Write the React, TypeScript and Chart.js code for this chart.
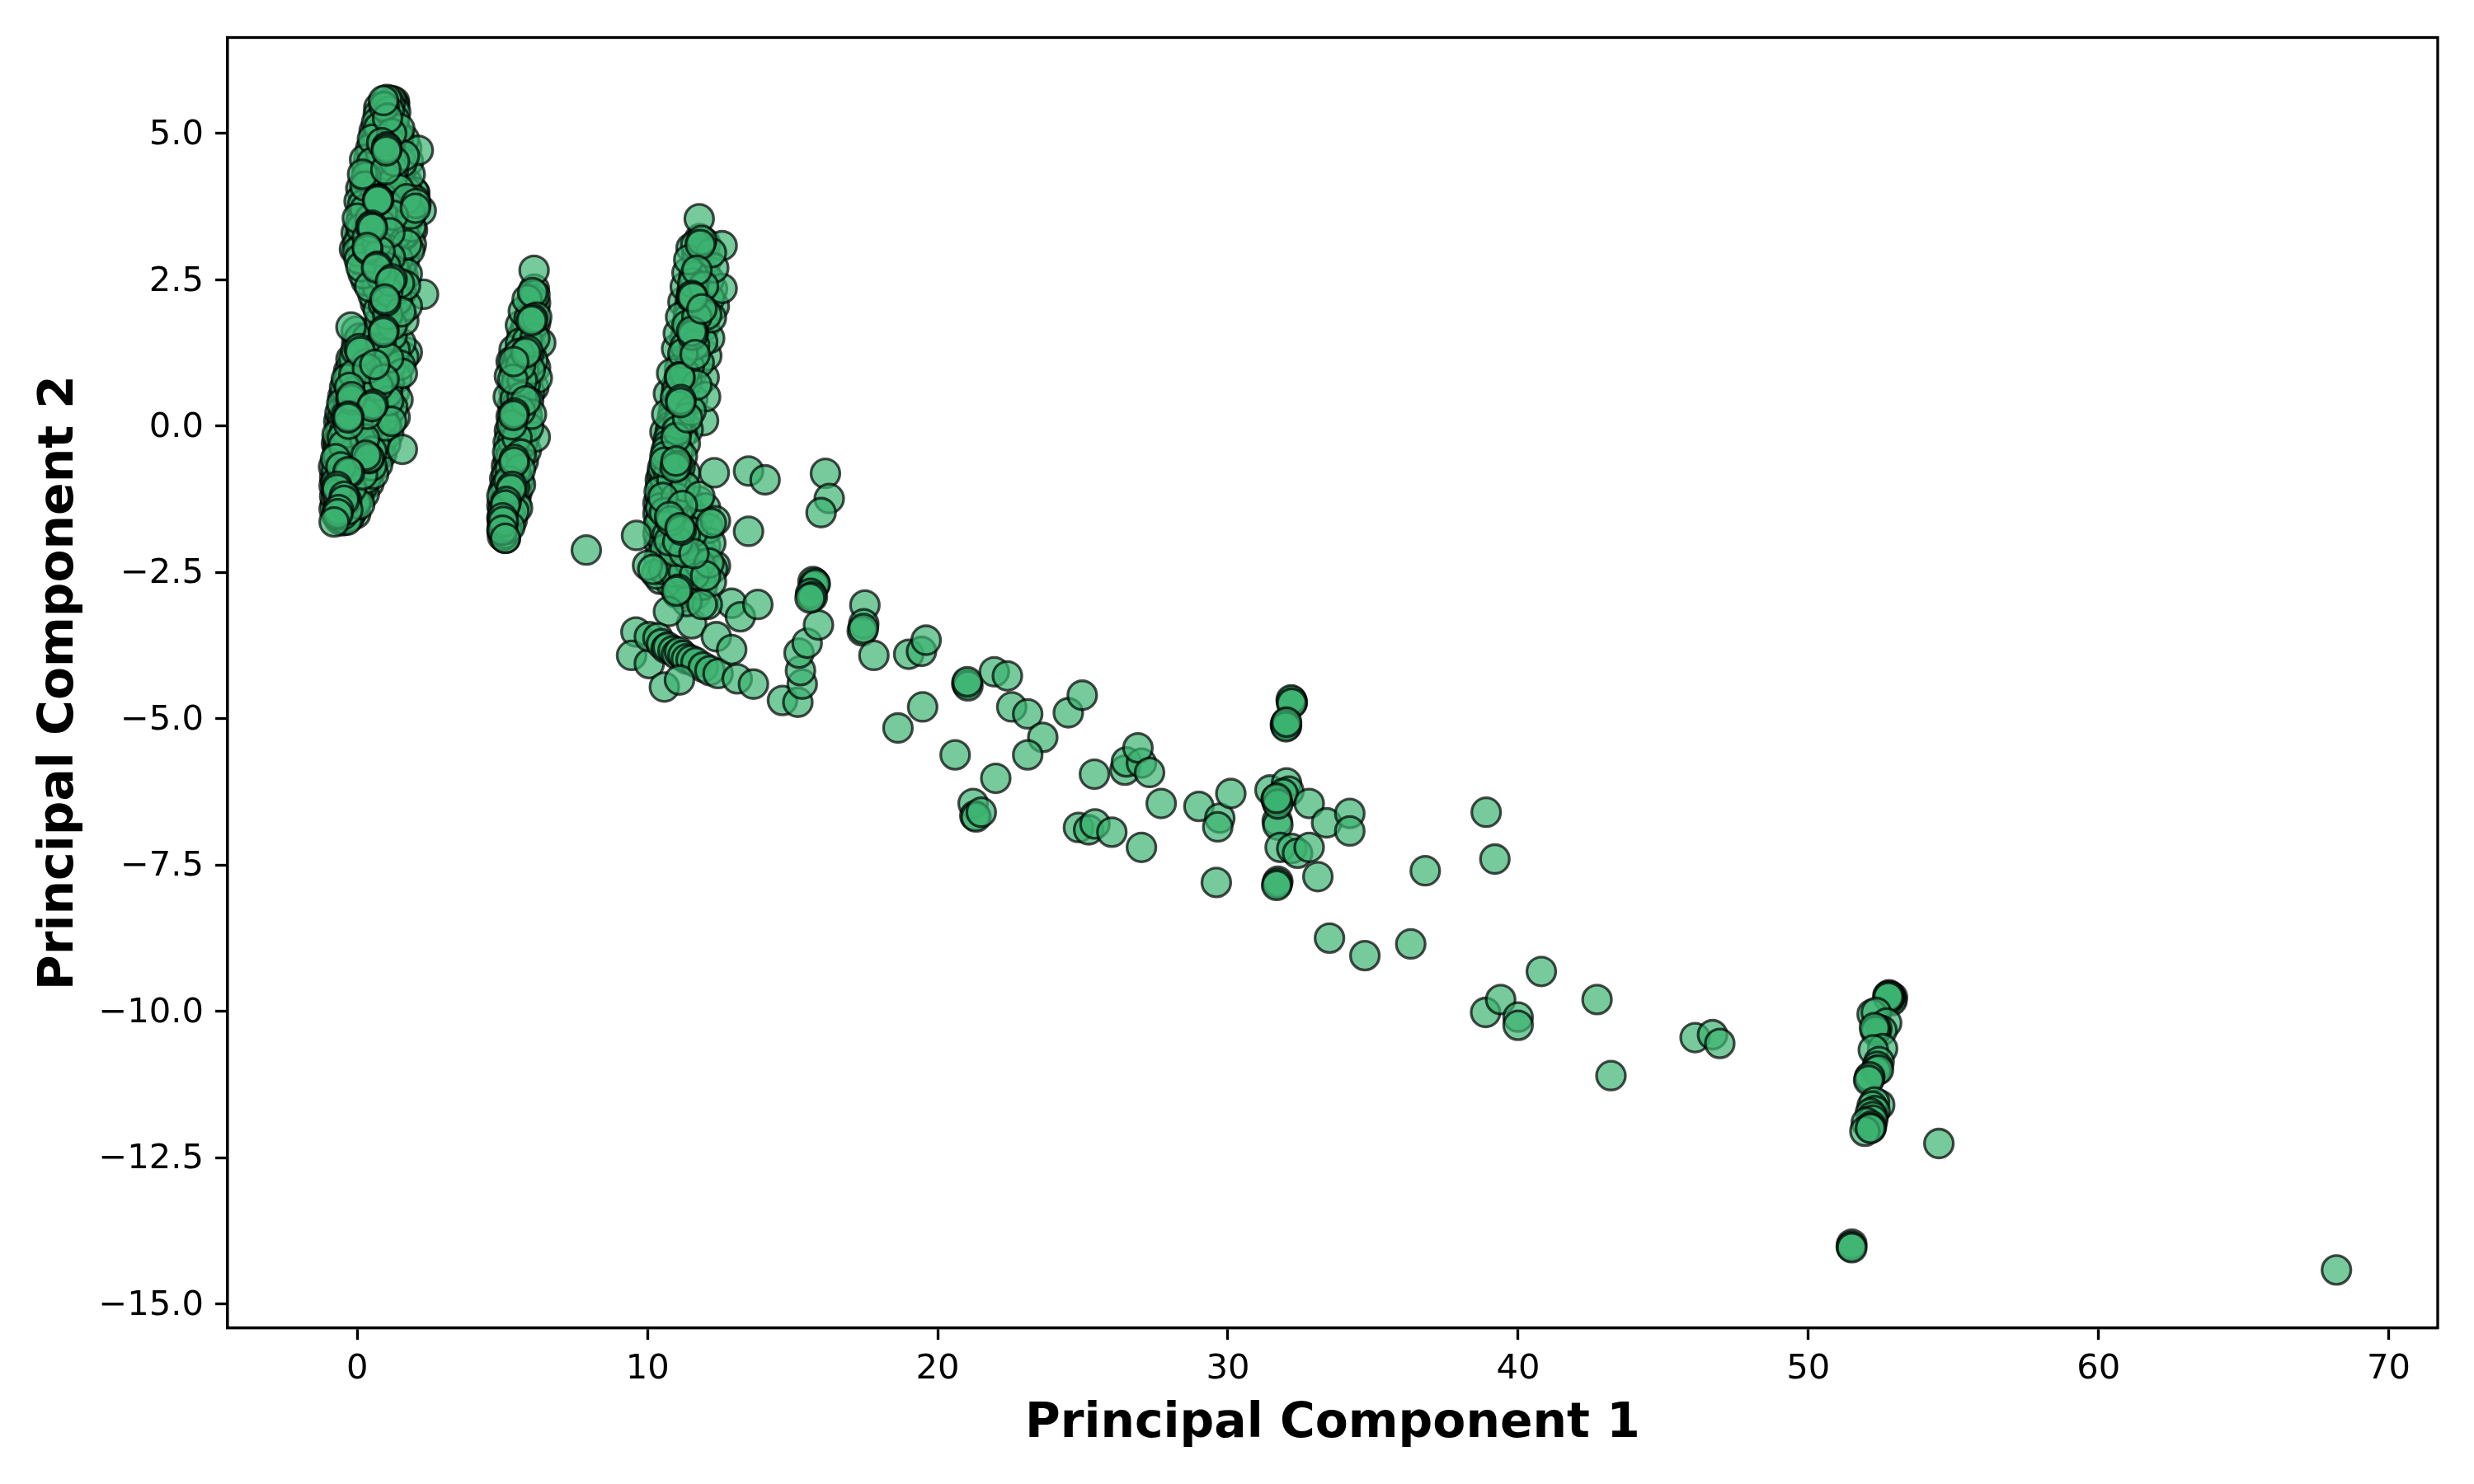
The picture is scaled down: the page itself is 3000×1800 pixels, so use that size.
import React, { useEffect, useRef } from "react";
import { Chart, registerables } from "chart.js";

Chart.register(...registerables);

type P = [number, number];

const xTicks = [0, 10, 20, 30, 40, 50, 60, 70];
const yTicks = [-15, -12.5, -10, -7.5, -5, -2.5, 0, 2.5, 5];
const xAxisTitle = "Principal Component 1";
const yAxisTitle = "Principal Component 2";

const clusterLower: P[] = [
  [-0.52,-1.62],[-0.44,-1.6],[-0.36,-1.61],[-0.6,-1.56],[-0.28,-1.56],[-0.5,-1.52],[-0.41,-1.49],[-0.55,-1.44],[-0.63,-1.47],[-0.2,-1.48],[-0.66,-1.38],[-0.33,-1.43],[-0.12,-1.41],
  [-0.58,-1.33],[-0.47,-1.36],[-0.24,-1.34],[-0.05,-1.31],[-0.68,-1.27],[-0.6,-1.22],[-0.37,-1.27],[-0.15,-1.25],[0.03,-1.22],[-0.7,-1.16],[-0.52,-1.17],[-0.29,-1.19],[-0.08,-1.15],[0.11,-1.13],
  [-0.72,-1.07],[-0.63,-1.02],[-0.43,-1.09],[-0.2,-1.06],[0.0,-1.03],[0.2,-1.02],[-0.74,-0.96],[-0.55,-0.95],[-0.33,-0.98],[-0.12,-0.93],[0.08,-0.94],[0.3,-0.9],[-0.7,-0.87],[-0.64,-0.8],[-0.45,-0.85],[-0.25,-0.84],[-0.02,-0.81],[0.18,-0.83],[0.42,-0.79],
  [-0.72,-0.74],[-0.57,-0.7],[-0.37,-0.74],[-0.14,-0.7],[0.07,-0.69],[0.28,-0.72],[0.5,-0.68],[-0.66,-0.62],[-0.5,-0.58],[-0.27,-0.61],[-0.05,-0.58],[0.17,-0.6],[0.4,-0.56],[0.62,-0.55],
  [-0.68,-0.5],[-0.58,-0.45],[-0.39,-0.49],[-0.18,-0.47],[0.04,-0.45],[0.27,-0.47],[0.5,-0.43],[0.72,-0.42],[-0.66,-0.38],[-0.48,-0.33],[-0.3,-0.37],[-0.08,-0.33],[0.15,-0.34],[0.38,-0.32],[0.6,-0.3],[0.82,-0.28],
  [-0.64,-0.26],[-0.52,-0.2],[-0.2,-0.22],[0.02,-0.2],[0.25,-0.22],[0.48,-0.18],[0.7,-0.17],[0.9,-0.14],[-0.6,-0.12],[-0.43,-0.08],[-0.12,-0.09],[0.12,-0.07],[0.36,-0.08],[0.58,-0.04],[0.8,-0.03],[1.0,0.0],
  [-0.56,0.0],[-0.46,0.06],[-0.3,0.03],[-0.03,0.05],[0.22,0.06],[0.46,0.08],[0.69,0.1],[0.9,0.12],[1.04,0.16],[-0.52,0.13],[-0.38,0.18],[-0.16,0.18],[0.08,0.19],[0.33,0.2],[0.58,0.23],[0.8,0.25],[1.02,0.28],
  [-0.48,0.27],[-0.33,0.31],[-0.05,0.33],[0.2,0.34],[0.45,0.36],[0.7,0.38],[0.92,0.4],[1.08,0.43],[-0.43,0.4],[-0.28,0.45],[-0.14,0.47],[0.08,0.47],[0.33,0.49],[0.58,0.52],[0.82,0.54],[1.04,0.57],
  [-0.4,0.53],[-0.24,0.6],[-0.02,0.61],[0.22,0.63],[0.47,0.66],[0.72,0.68],[0.95,0.7],[1.1,0.73],[-0.35,0.68],[-0.18,0.74],[0.1,0.76],[0.35,0.79],[0.6,0.82],[0.85,0.83],[1.06,0.87],
  [-0.3,0.82],[-0.12,0.88],[0.2,0.91],[0.48,0.94],[0.74,0.96],[0.98,0.99],[1.14,1.02],[-0.22,0.98],[-0.05,1.04],[0.3,1.06],[0.58,1.1],[0.86,1.12],[1.08,1.16],[1.3,1.1],
  [-0.12,1.14],[0.05,1.2],[0.4,1.23],[0.7,1.26],[0.96,1.3],[1.18,1.28],[-0.05,1.29],[0.18,1.34],[0.52,1.38],[0.82,1.42],[1.1,1.42],[1.3,1.3],[-0.02,1.42],[0.08,1.5],[0.34,1.5],[0.66,1.55],[0.95,1.56],[1.2,1.55],[-0.04,1.62],
  [-0.78,-1.2],[-0.8,-1.02],[-0.78,-0.88],[-0.82,-0.7],[-0.75,-0.56],[-0.72,-0.3],[-0.7,-0.15],[-0.64,0.08],[-0.6,0.22],[-0.54,0.38],[-0.5,0.5],[-0.44,0.66],[-0.38,0.8],[-0.3,0.94],[-0.22,1.14],[-0.22,1.69],[-0.76,-1.34],[-0.72,-1.52],[-0.62,-1.6],[-0.8,-1.42],
  [1.22,0.32],[1.28,0.58],[1.36,0.82],[1.48,1.04],[1.72,1.26],[1.5,1.42],[1.18,0.08],[1.08,-0.12],[0.98,-0.3],[0.84,-0.48],[0.7,-0.66],[0.56,-0.82],[0.4,-0.98],[0.24,-1.16],[0.08,-1.34],[-0.06,-1.5],[1.4,0.45],[1.55,0.9],[1.6,1.18],[1.3,0.15],
];

const clusterUpper: P[] = [
  [0.95,1.72],[1.2,1.72],[0.78,1.8],[1.35,1.85],[1.05,1.9],[0.72,1.98],[1.24,2.02],[1.5,1.95],[0.9,2.08],[0.62,2.1],[1.12,2.16],[1.38,2.15],[0.54,2.24],[0.82,2.26],[1.05,2.3],[1.3,2.3],[1.52,2.28],
  [0.42,2.38],[0.68,2.38],[0.96,2.42],[1.2,2.46],[1.45,2.44],[0.3,2.48],[0.56,2.52],[0.82,2.56],[1.08,2.58],[1.35,2.6],[1.58,2.56],[0.2,2.6],[0.45,2.66],[0.72,2.7],[0.98,2.72],[1.25,2.72],[1.5,2.72],
  [0.12,2.72],[0.34,2.8],[0.6,2.82],[0.88,2.86],[1.14,2.88],[1.4,2.86],[1.62,2.84],[0.06,2.85],[0.26,2.94],[0.5,2.96],[0.78,2.98],[1.04,3.02],[1.3,3.0],[1.55,3.0],[0.0,2.98],[0.15,3.06],[0.42,3.08],[0.68,3.12],[0.94,3.14],[1.2,3.16],[1.45,3.14],[1.7,3.1],
  [0.02,3.12],[0.1,3.2],[0.34,3.22],[0.6,3.26],[0.88,3.28],[1.12,3.3],[1.38,3.28],[1.62,3.26],[0.08,3.3],[0.14,3.38],[0.36,3.38],[0.56,3.42],[0.82,3.44],[1.06,3.46],[1.3,3.44],[1.58,3.44],[1.85,3.4],
  [0.1,3.46],[0.2,3.54],[0.44,3.54],[0.72,3.58],[0.98,3.6],[1.24,3.6],[1.5,3.58],[1.78,3.56],[0.14,3.62],[0.26,3.7],[0.5,3.7],[0.78,3.74],[1.05,3.76],[1.3,3.74],[1.6,3.72],[2.0,3.72],[0.18,3.78],[0.3,3.86],[0.58,3.86],[0.86,3.9],[1.12,3.9],[1.38,3.88],[1.7,3.88],[1.98,3.86],
  [0.22,3.94],[0.34,4.02],[0.62,4.02],[0.9,4.06],[1.16,4.06],[1.44,4.04],[1.72,4.0],[1.98,3.98],[0.26,4.1],[0.4,4.18],[0.66,4.2],[0.94,4.22],[1.2,4.22],[1.46,4.2],[1.72,4.16],[0.3,4.26],[0.44,4.34],[0.7,4.36],[0.98,4.38],[1.24,4.36],[1.5,4.35],
  [0.34,4.42],[0.5,4.5],[0.76,4.52],[1.02,4.54],[1.28,4.52],[1.54,4.5],[0.4,4.58],[0.54,4.66],[0.8,4.68],[1.08,4.68],[1.36,4.66],[1.62,4.62],[0.46,4.74],[0.6,4.82],[0.84,4.84],[1.14,4.84],[1.4,4.82],[1.7,4.75],
  [0.52,4.9],[0.68,4.96],[0.92,5.0],[1.18,5.0],[1.42,4.95],[1.62,4.9],[0.58,5.04],[0.74,5.1],[1.0,5.12],[1.26,5.12],[1.46,5.08],[0.66,5.18],[0.82,5.24],[1.04,5.26],[1.28,5.24],[0.72,5.32],[0.88,5.36],[1.1,5.38],[1.32,5.36],[0.74,5.44],[0.92,5.46],[1.12,5.5],[1.28,5.48],[0.9,5.56],[1.02,5.58],[1.18,5.56],[1.28,5.54],
  [2.1,4.71],[1.95,4.0],[2.2,3.68],[2.02,3.8],[1.6,3.28],[1.86,3.1],[2.28,2.25],[1.72,2.6],[-0.1,3.02],[-0.04,3.3],[0.0,3.55],[0.06,3.84],[0.12,4.06],[0.18,4.3],[0.25,4.55],[1.8,3.0],[1.9,3.35],[1.66,2.4],[1.72,2.05],[1.6,1.8],[1.84,3.62],[1.82,4.3],[1.76,4.52],
];

const clusterUpperRings: P[] = [
  [0.72,3.87],[0.71,3.88],[0.73,3.86],[0.7,3.85],[1.01,4.77],[1.02,4.74],[1.0,4.7],[0.5,3.43],[0.46,3.4],[0.52,3.38],[0.36,3.01],[0.34,3.05],[0.69,2.73],[0.66,2.7],[1.2,2.51],[1.14,2.47],[0.98,2.13],[0.95,2.17],[0.92,1.64],[0.9,1.6],
];

const clusterLowerRings: P[] = [
  [0.06,1.32],[0.1,1.27],[0.35,0.98],[0.92,0.8],[-0.27,0.66],[-0.22,0.45],[-0.2,0.5],[0.55,0.37],[0.5,0.33],[-0.3,0.17],[-0.32,0.14],[0.4,-0.54],[0.3,-0.5],[-0.27,-0.8],[-0.32,-0.78],[-0.7,-1.03],[-0.7,-1.08],[-0.45,-1.2],[-0.46,-1.27],[-0.65,-1.43],[-0.68,-1.5],[-0.8,-1.64],[1.55,-0.4],[0.6,1.05],
];

const clusterMiddle: P[] = [
  [5.1,-1.92],[5.0,-1.88],[5.08,-1.84],[4.98,-1.78],[5.16,-1.76],[5.04,-1.72],[5.26,-1.72],[5.0,-1.66],[5.12,-1.62],[5.34,-1.6],[4.98,-1.57],[5.1,-1.54],[5.24,-1.5],[5.4,-1.46],[5.02,-1.44],[5.14,-1.4],[4.98,-1.36],[5.3,-1.36],[5.46,-1.3],[5.08,-1.3],[5.2,-1.26],[4.98,-1.2],[5.36,-1.2],[5.14,-1.16],[5.5,-1.14],[5.04,-1.1],[5.28,-1.08],[5.42,-1.04],[5.12,-1.02],[5.22,-0.94],[5.08,-0.9],[5.56,-0.92],
  [5.34,-0.88],[5.15,-0.82],[5.46,-0.78],[5.26,-0.74],[5.62,-0.74],[5.14,-0.68],[5.38,-0.65],[5.5,-0.58],[5.22,-0.58],[5.3,-0.5],[5.18,-0.45],[5.64,-0.48],[5.42,-0.42],[5.26,-0.36],[5.56,-0.34],[5.2,-0.28],[5.7,-0.3],[5.36,-0.26],[5.5,-0.2],[5.28,-0.16],[5.8,-0.14],[5.64,-0.1],[5.24,-0.08],[5.42,-0.05],[6.13,-0.19],[5.9,-0.02],
  [5.32,0.02],[5.56,0.04],[5.72,0.08],[5.38,0.1],[5.3,0.16],[5.86,0.16],[5.5,0.2],[5.62,0.26],[5.4,0.3],[5.36,0.36],[5.76,0.34],[5.54,0.4],[5.9,0.42],[5.44,0.46],[5.68,0.5],[5.5,0.56],[5.94,0.58],[5.4,0.6],[5.6,0.66],[5.78,0.7],[5.48,0.74],[5.68,0.78],[5.36,0.8],[5.88,0.82],[6.2,0.82],[5.56,0.88],
  [5.74,0.94],[5.44,0.96],[5.96,0.96],[5.62,1.02],[5.84,1.08],[5.3,1.1],[5.5,1.12],[6.05,1.12],[5.7,1.18],[5.92,1.24],[5.58,1.24],[5.4,1.3],[6.0,1.34],[5.76,1.34],[6.32,1.42],[5.62,1.42],[5.86,1.46],[6.12,1.5],[5.68,1.54],[5.94,1.58],[5.78,1.64],[6.05,1.66],[5.84,1.74],[6.14,1.76],[5.92,1.84],
  [6.18,1.86],[5.98,1.94],[6.1,2.0],[6.0,2.04],[6.14,2.1],[6.02,2.16],[6.12,2.24],[6.04,2.28],[6.1,2.34],[6.09,2.66],[5.72,-0.6],[5.82,-0.42],[5.62,-1.0],[5.52,-1.4],[6.0,0.2],[6.08,0.66],[6.14,1.0],[5.2,0.5],[5.24,0.85],[5.62,1.72],[5.72,1.96],[5.85,2.16],
];

const clusterMiddleRings: P[] = [
  [6.04,1.83],[6.0,1.8],[5.87,1.29],[5.8,1.25],[5.39,1.1],[5.8,0.43],[5.41,0.22],[5.38,0.18],[5.41,-0.57],[5.4,-0.62],[5.33,-1.03],[5.3,-1.08],[5.13,-1.29],[5.1,-1.35],[5.0,-1.57],[5.03,-1.63],[5.0,-1.78],[5.1,-1.92],
];

const clusterRight: P[] = [
  [10.4,-2.0],[10.52,-1.92],[10.36,-1.84],[10.68,-1.86],[10.5,-1.76],[10.82,-1.78],[10.38,-1.68],[10.62,-1.68],[10.96,-1.7],[10.45,-1.58],[10.72,-1.58],[11.1,-1.6],[10.36,-1.5],[10.58,-1.48],[10.86,-1.5],[11.24,-1.52],[10.44,-1.4],[10.7,-1.4],[11.0,-1.42],[11.46,-1.46],[10.36,-1.32],[10.56,-1.3],[10.82,-1.3],[11.14,-1.3],[10.44,-1.22],[10.68,-1.2],[10.98,-1.22],[11.38,-1.24],[11.76,-1.28],
  [10.4,-1.12],[10.58,-1.1],[10.82,-1.12],[11.1,-1.12],[10.46,-1.02],[10.7,-1.0],[10.96,-1.02],[11.3,-1.04],[10.44,-0.92],[10.6,-0.9],[10.84,-0.92],[11.14,-0.94],[10.5,-0.82],[10.72,-0.8],[10.98,-0.82],[11.3,-0.8],[10.52,-0.72],[10.66,-0.7],[10.88,-0.72],[11.12,-0.7],[10.58,-0.62],[10.76,-0.6],[11.0,-0.62],[10.6,-0.52],[10.8,-0.5],[11.2,-0.52],[10.64,-0.42],[10.88,-0.4],[11.06,-0.42],[10.7,-0.32],[10.92,-0.3],[11.3,-0.3],[10.72,-0.22],[10.98,-0.2],[11.2,-0.14],
  [10.78,-0.1],[11.02,-0.08],[11.4,-0.06],[10.8,0.0],[11.04,0.02],[11.93,0.09],[10.84,0.1],[11.1,0.12],[11.38,0.14],[10.88,0.22],[11.14,0.24],[11.5,0.26],[10.94,0.34],[11.2,0.36],[10.96,0.48],[11.26,0.5],[11.56,0.46],[11.0,0.6],[11.32,0.62],[11.02,0.72],[11.36,0.76],[11.7,0.7],[11.95,0.83],[10.83,0.9],[11.28,0.9],[11.56,0.92],[11.1,0.98],[11.44,1.02],[11.18,1.1],[11.52,1.14],[11.78,1.08],
  [11.22,1.24],[11.5,1.26],[11.3,1.36],[11.62,1.38],[11.28,1.48],[11.58,1.5],[11.9,1.44],[11.34,1.6],[11.66,1.62],[11.36,1.72],[11.68,1.74],[11.96,1.7],[11.4,1.84],[11.7,1.86],[11.42,1.96],[11.76,1.98],[12.04,1.9],[11.46,2.08],[11.8,2.1],[11.5,2.2],[11.84,2.22],[12.14,2.18],[11.54,2.32],[11.86,2.36],[12.24,2.34],[12.57,2.35],[11.56,2.44],[11.9,2.48],[12.12,2.5],[11.6,2.56],[11.96,2.62],[11.68,2.7],[12.28,2.7],[11.74,2.82],[12.04,2.84],[11.7,2.94],[12.2,2.96],[11.84,3.02],[12.57,3.08],[11.66,3.1],[12.0,3.12],[11.8,3.2],[11.78,3.54],
  [11.0,1.32],[11.06,1.58],[11.14,1.86],[11.22,2.12],[11.3,2.38],[11.36,2.62],[11.42,2.84],[11.5,3.04],[12.14,1.5],[12.2,1.85],[12.3,2.05],[10.6,-0.1],[10.66,0.2],[10.72,0.55],[12.04,1.2],[12.0,0.5],
];

const clusterRightLower: P[] = [
  [11.76,-1.6],[12.0,-1.4],[11.8,-1.2],[12.1,-1.75],[11.56,-1.82],[11.3,-1.86],[10.74,-1.96],[11.04,-1.98],[11.44,-2.02],[11.78,-2.0],[12.0,-2.05],[12.18,-2.0],[10.6,-2.1],[10.92,-2.14],[11.26,-2.16],[11.6,-2.18],[11.94,-2.2],[10.4,-2.26],[10.74,-2.28],[11.08,-2.32],[11.44,-2.32],[11.8,-2.36],[12.12,-2.34],[12.34,-2.39],[12.24,-2.44],[10.3,-2.53],[10.56,-2.46],[10.9,-2.5],[11.24,-2.5],[11.62,-2.54],[12.0,-2.56],[10.44,-2.62],[10.8,-2.68],[11.14,-2.7],[11.5,-2.7],[11.9,-2.72],[12.2,-2.66],[11.06,-2.79],[11.0,-2.82],[11.02,-2.86],[11.32,-2.86],[11.66,-2.88],[12.06,-3.05],[11.36,-3.0],
  [11.88,-3.05],[10.72,-3.17],[11.52,-3.38],[12.37,-3.6],[12.9,-3.03],[13.2,-3.26],[13.8,-3.05],[12.3,-0.8],[12.34,-1.62],[12.2,-1.66],[13.48,-0.77],[14.05,-0.92],[13.48,-1.8],[9.62,-1.87],[7.89,-2.12],[10.0,-2.38],[10.18,-2.45],
];

const clusterRightRings: P[] = [
  [11.1,0.84],[11.12,0.83],[11.15,0.45],[11.14,0.4],[11.02,-0.68],[10.95,-0.71],[10.98,-0.6],[10.53,-1.22],[11.2,-1.36],[10.8,-1.62],[10.76,-1.55],[11.16,-1.78],[11.12,-1.74],[11.87,3.17],[11.82,3.1],[11.93,2.39],[11.7,2.66],[11.53,2.23],[11.56,2.2],[11.58,1.6],[11.55,1.55],[11.52,1.62],[11.87,2.0],[11.64,1.22],
];

const lowerBand: P[] = [
  [9.6,-3.52],[9.45,-3.92],[10.06,-4.06],[10.06,-3.6],[10.36,-3.62],[10.48,-3.72],[10.64,-3.8],[10.7,-3.78],[10.88,-3.84],[11.0,-3.9],[11.1,-3.86],[11.22,-3.92],[11.34,-3.98],[11.5,-4.0],[11.67,-4.04],[11.92,-4.12],[12.15,-4.18],[12.43,-4.23],[12.9,-3.82],[13.09,-4.32],[13.65,-4.41],[10.58,-4.46],[11.1,-4.34],[14.65,-4.69],[15.18,-4.72],[15.33,-4.41],[15.27,-4.18],[15.22,-3.88],[15.5,-3.71],[15.89,-3.4],
];

const midCloud: P[] = [
  [16.13,-0.81],[16.26,-1.24],[15.98,-1.48],[15.76,-2.68],[15.7,-2.66],[15.74,-2.72],[15.78,-2.7],[15.65,-2.89],[15.62,-2.86],[15.68,-2.92],[15.6,-2.94],[17.49,-3.06],[17.45,-3.38],[17.4,-3.5],[17.44,-3.46],[17.8,-3.92],[19.0,-3.9],[19.44,-3.85],[19.6,-3.66],[19.48,-4.8],[18.63,-5.16],
  [21.0,-4.4],[21.04,-4.44],[21.02,-4.37],[21.95,-4.2],[22.4,-4.27],[22.55,-4.8],[23.1,-4.92],[23.62,-5.32],[23.1,-5.62],[24.5,-4.9],[24.98,-4.6],[20.6,-5.62],[22.0,-6.02],[21.22,-6.45],[21.28,-6.66],[21.32,-6.68],[21.5,-6.6],
  [24.85,-6.86],[25.2,-6.9],[25.42,-6.8],[26.0,-6.94],[25.4,-5.95],[26.45,-5.88],[26.5,-5.74],[27.02,-5.76],[26.9,-5.5],[27.3,-5.92],[27.7,-6.45],[27.02,-7.2],[29.0,-6.5],[29.72,-6.7],[29.65,-6.85],[30.1,-6.28],[29.6,-7.8],
  [31.45,-6.22],[31.7,-6.75],[31.72,-6.82],[31.8,-7.2],[31.72,-7.78],[31.7,-7.82],[31.68,-7.85],[32.02,-6.1],[32.1,-6.24],[31.9,-6.28],[32.8,-6.45],[33.4,-6.78],[32.2,-7.22],[32.4,-7.3],[32.8,-7.2],[33.1,-7.7],[34.2,-6.62],[34.2,-6.92],[33.5,-8.75],[34.72,-9.05],[36.3,-8.85],[36.8,-7.6],
  [31.7,-6.42],[31.66,-6.38],[31.72,-6.46],[31.68,-6.36],[32.2,-4.7],[32.22,-4.72],[32.18,-4.68],[32.2,-4.74],[32.0,-5.08],[32.02,-5.12],[31.98,-5.1],[32.0,-5.14],[32.02,-5.06],
  [38.9,-6.6],[39.2,-7.4],[38.88,-10.02],[39.4,-9.8],[40.0,-10.1],[40.0,-10.24],[40.8,-9.32],[42.72,-9.8],[43.2,-11.1],[46.1,-10.45],[46.7,-10.4],[46.95,-10.55],
];

const farCluster: P[] = [
  [52.85,-9.8],[52.9,-9.76],[52.88,-9.82],[52.8,-9.78],[52.82,-9.74],[52.78,-9.72],[52.74,-9.74],[52.76,-9.76],
  [52.2,-10.05],[52.34,-10.02],[52.7,-10.2],[52.54,-10.33],[52.36,-10.3],[52.32,-10.34],[52.28,-10.28],[52.56,-10.64],[52.24,-10.66],[52.44,-10.86],[52.38,-10.94],[52.34,-11.02],[52.42,-11.0],[52.1,-11.15],[52.12,-11.12],[52.08,-11.18],
  [52.46,-11.6],[52.28,-11.55],[52.2,-11.62],[52.3,-11.7],[52.14,-11.74],[52.22,-11.8],[52.22,-11.86],[52.0,-11.9],[52.18,-11.96],[52.16,-12.0],[51.95,-12.05],[52.14,-12.0],
  [54.5,-12.26],[51.5,-13.98],[51.48,-14.02],[51.5,-14.04],[68.2,-14.42],
];

// Paint order only: walks the list with a fixed stride, so that rows typed in order do not paint as stripes.
function paintOrder(list: P[]): P[] {
  const n = list.length;
  let stride = Math.floor(n * 0.382) | 1;
  const gcd = (a: number, b: number): number => (b ? gcd(b, a % b) : a);
  while (gcd(stride, n) !== 1) stride += 2;
  return list.map((_, i) => list[(i * stride) % n]);
}

const allPoints: P[] = [
  ...paintOrder(clusterLower), ...paintOrder(clusterUpper), ...paintOrder(clusterMiddle),
  ...paintOrder(clusterRight), ...paintOrder(clusterRightLower),
  ...lowerBand, ...midCloud, ...farCluster,
  ...clusterLowerRings, ...clusterUpperRings, ...clusterMiddleRings, ...clusterRightRings,
];

const framePlugin = {
  id: "frame",
  afterDraw(chart: any) {
    const { ctx, chartArea: a } = chart;
    ctx.save();
    ctx.strokeStyle = "#000";
    ctx.lineWidth = 3.33;
    ctx.strokeRect(a.left, a.top, a.right - a.left, a.bottom - a.top);
    ctx.restore();
  },
};

const tickFont = { family: "'DejaVu Sans'", size: 41.67 };
const titleFont = { family: "'DejaVu Sans'", size: 58.33, weight: "bold" as const };

// Nudges tick text so that digits sit centred on their tick, as in the reference.
function nudgeLabels(scale: any, dy: number) {
  if (scale.__nudged) return;
  scale.__nudged = true;
  const original = scale._computeLabelItems;
  scale._computeLabelItems = function (area: any) {
    const items = original.call(scale, area);
    items.forEach((it: any) => {
      if (it.options && it.options.translation) {
        it.options.translation = [it.options.translation[0], it.options.translation[1] + dy];
      }
    });
    return items;
  };
}

export default function App() {
  const ref = useRef<HTMLCanvasElement | null>(null);
  useEffect(() => {
    document.body.style.margin = "0";
    document.body.style.background = "#fff";
    const chart = new Chart(ref.current as HTMLCanvasElement, {
      type: "scatter",
      data: {
        datasets: [
          {
            label: "Samples",
            data: allPoints.map(([x, y]) => ({ x, y })),
            backgroundColor: "rgba(60,179,113,0.7)",
            borderColor: "rgba(0,0,0,0.7)",
            borderWidth: 3.3,
            pointRadius: 17.5,
            pointHoverRadius: 17.5,
          },
        ],
      },
      options: {
        responsive: false,
        animation: false,
        devicePixelRatio: 1,
        events: [],
        layout: { padding: { left: 0, top: 45.5, right: 44, bottom: 0 } },
        plugins: { legend: { display: false }, tooltip: { enabled: false }, title: { display: false } },
        scales: {
          x: {
            type: "linear",
            min: -4.48,
            max: 71.69,
            afterBuildTicks: (s: any) => { s.ticks = xTicks.map((value) => ({ value })); },
            afterFit: (s: any) => { s.height = 189.5; },
            grid: { drawOnChartArea: false, drawTicks: true, tickLength: 14.6, tickWidth: 3.33, tickColor: "#000" },
            border: { display: true, color: "#000", width: 3.33 },
            ticks: { color: "#000", font: tickFont, padding: 11, maxRotation: 0, autoSkip: false, callback: (v: any) => String(v) },
            title: { display: true, text: xAxisTitle, color: "#000", font: titleFont, padding: { top: 37, bottom: 37 } },
          },
          y: {
            type: "linear",
            min: -15.408,
            max: 6.637,
            afterBuildTicks: (s: any) => { s.ticks = yTicks.map((value) => ({ value })); },
            afterFit: (s: any) => { s.width = 275.7; },
            afterUpdate: (s: any) => nudgeLabels(s, 2.5),
            grid: { drawOnChartArea: false, drawTicks: true, tickLength: 14.6, tickWidth: 3.33, tickColor: "#000" },
            border: { display: true, color: "#000", width: 3.33 },
            ticks: {
              color: "#000",
              font: tickFont,
              padding: 14,
              autoSkip: false,
              callback: (v: any) => {
                const n = Number(v);
                return (n < 0 ? "\u2212" : "") + Math.abs(n).toFixed(1);
              },
            },
            title: { display: true, text: yAxisTitle, color: "#000", font: titleFont, padding: { top: 38, bottom: 10 } },
          },
        },
      },
      plugins: [framePlugin],
    } as any);
    return () => chart.destroy();
  }, []);
  return (
    <div style={{ width: 3000, height: 1800, background: "#fff" }}>
      <canvas ref={ref} width={3000} height={1800} style={{ display: "block" }} />
    </div>
  );
}
